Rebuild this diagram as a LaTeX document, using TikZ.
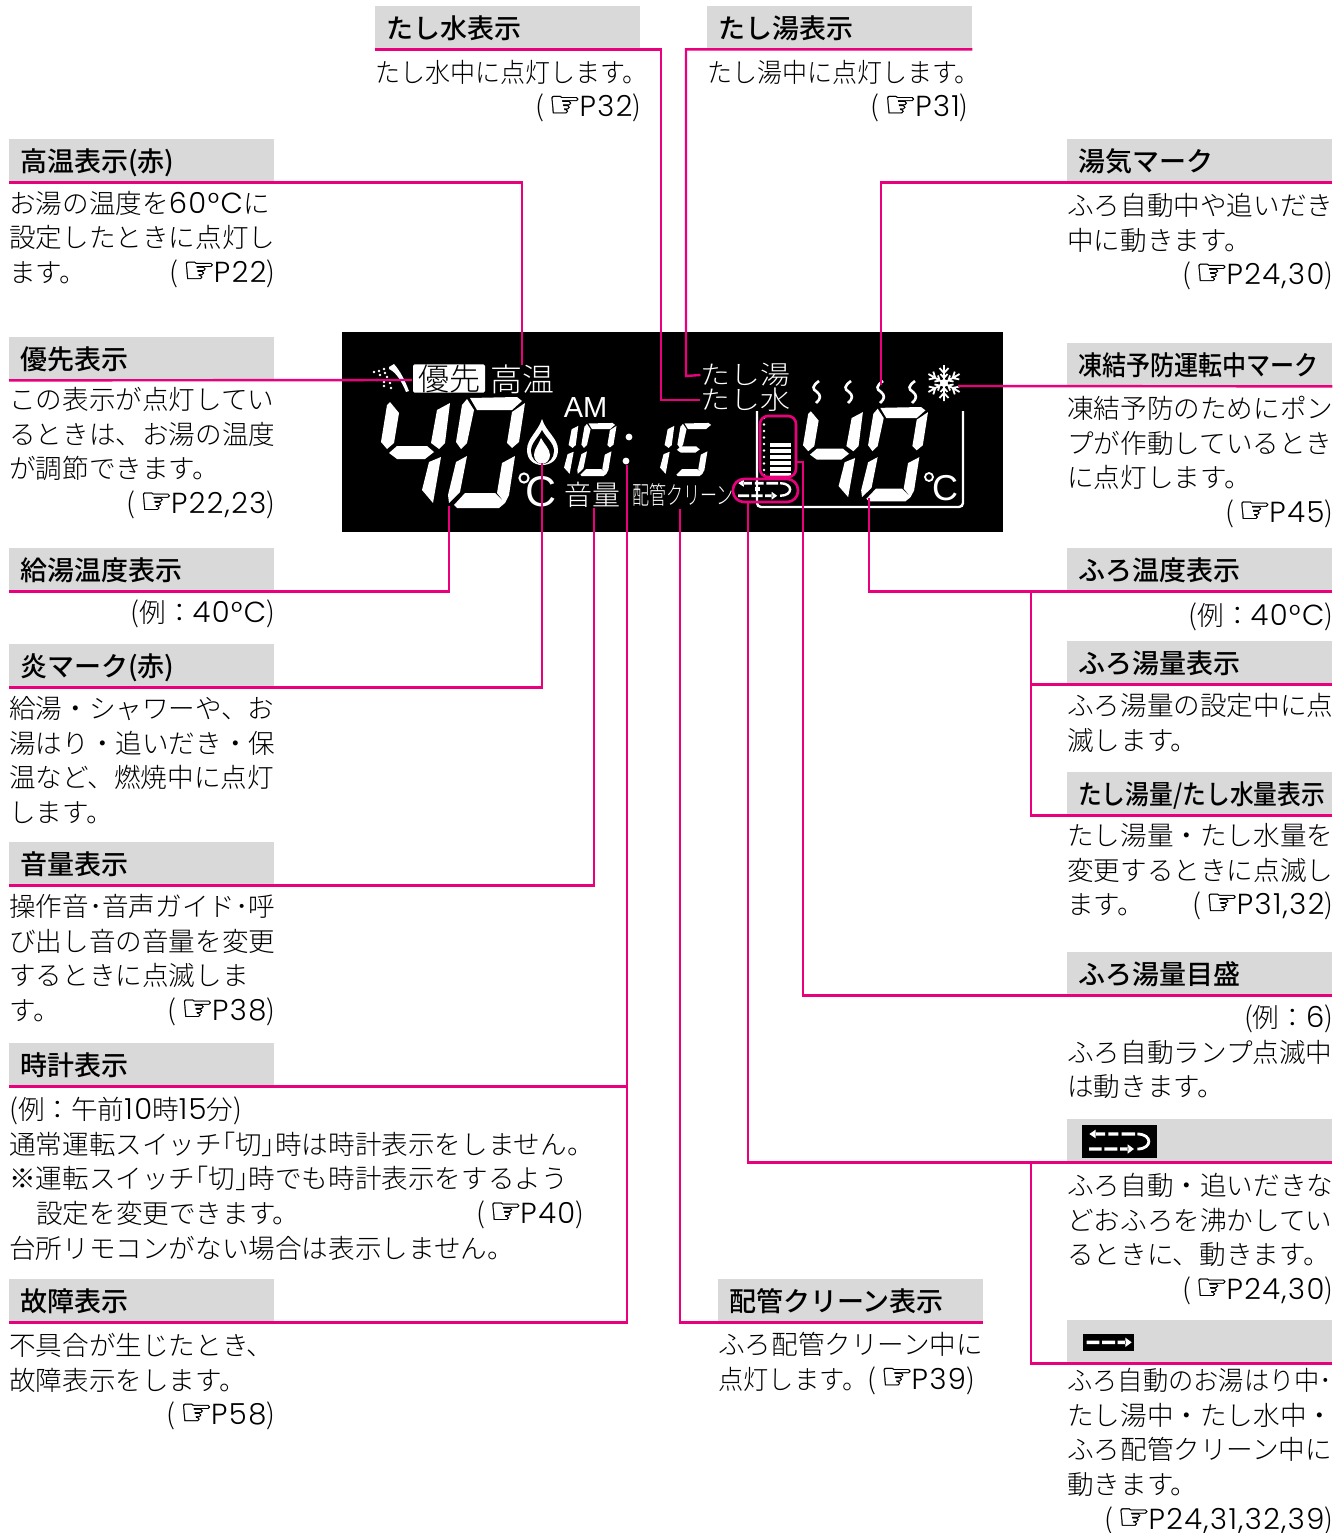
\documentclass[tikz,border=0pt]{standalone}
\usepackage{fontspec}
\usepackage{graphicx}
\setmainfont{Noto Sans CJK JP Light}
\newfontfamily\hdfont{Noto Sans CJK JP Medium}
\newfontfamily\latfont[LetterSpace=5]{Poppins Light}
\newfontfamily\amfont{Liberation Sans}
\newfontfamily\symfont[RawFeature={embolden=0.7}]{DejaVu Sans}
\definecolor{pinkline}{RGB}{232,0,125}
\definecolor{barfill}{RGB}{217,217,217}
\newlength\bw
\newcommand\tl[1]{\hbox to \bw{#1\hfil}}
\newcommand\tr[1]{\hbox to \bw{\hfil #1}}
\newcommand\lt[1]{{\fontsize{29}{30}\latfont #1}}
\newcommand\pl{{\fontsize{28}{30}\selectfont(}}
\newcommand\pr{{\fontsize{28}{30}\selectfont)}}
\newcommand\hand{{\fontsize{37}{30}\symfont ☞}}
\newcommand\refp[1]{\pl\,\hand\kern-2pt\lt{#1}\pr}
\newcommand\degc{\lt{°C}}
\newcommand\segLU{(467,399)--(474,410)--(467,443)--(461,449)--(456,442)--(462,405)--cycle}
\newcommand\segT{(470,398)--(517,397)--(522,401)--(512,410)--(477,410)--cycle}
\newcommand\segRU{(525,403)--(519,442)--(512,448)--(507,443)--(512,412)--cycle}
\newcommand\segRL{(515,456)--(509,495)--(505,503)--(497,493)--(502,463)--cycle}
\newcommand\segB{(454,505)--(465,493)--(495,493)--(505,503)--(499,508)--(457,508)--cycle}
\newcommand\segLL{(467,456)--(460,492)--(449,503)--(448,495)--(456,462)--cycle}
\newcommand\segM{(455,453)--(463,446)--(493,446)--(500,452)--(491,459)--(463,459)--cycle}
\newcommand\fourA{(390,402)--(399,413)--(394,443)--(387,449)--(381,442)--(387,405)--cycle}
\newcommand\fourM{(389,453)--(397,446)--(427,446)--(434,452)--(425,459)--(397,459)--cycle}
\newcommand\oneU{(450,403)--(445,443)--(439,449)--(431,443)--(437,410)--cycle}
\newcommand\oneL{(441,457)--(433,503)--(422,490)--(429,462)--cycle}
\newcommand\drawfour{\fill[white] \fourA \fourM \oneU \oneL;}
\newcommand\drawone{\fill[white] \oneU \oneL;}
\newcommand\drawzero{\fill[white] \segLU \segT \segRU \segRL \segB \segLL;}
\newcommand\drawfive{\fill[white] \segLU \segT \segM \segRL \segB;}
\newcommand\flowlow{\fill[white] (87,112) rectangle (125,122) (133,112) rectangle (172,122) (180,112) rectangle (205,122) (203,103)--(222,117)--(203,131)--cycle;}
\newcommand\flowup{\fill[white] (88,72)--(107,59)--(107,85)--cycle (105,67) rectangle (135,77) (145,67) rectangle (175,77) (185,67) rectangle (225,77);}
\tikzset{
  x=1pt,y=-1pt,
  headbar/.style={fill=barfill,anchor=north west,inner xsep=11pt,inner ysep=0pt,minimum height=#1,text width=243pt,text height=22pt,text depth=1pt,font=\fontsize{27}{30}\hdfont},
  headbar/.default=43pt,
  bodyblock/.style={anchor=north west,yshift=-8pt,inner sep=0pt,text width=#1,font=\fontsize{26.6}{34.8}\selectfont,execute at begin node={\setlength\bw{#1}\rule{0pt}{22pt}\par\vskip-34.8pt}},
  bodyblock/.default=266pt,
  conn/.style={draw=pinkline,line width=2.4pt,line join=miter},
  disp/.style={text=white,inner sep=0pt,anchor=center},
  pinkring/.style={draw=pinkline,line width=2.6pt},
}
\begin{document}
\begin{tikzpicture}
\useasboundingbox (0,0) rectangle (1343,1533);
\fill[white] (0,0) rectangle (1343,1533);
% display
\fill[black] (342,332) rectangle (1003,532);
% shower
\fill[white] (389,367) -- (394,364) .. controls (401,372) and (405,381) .. (409,391) -- (406,392) .. controls (402,382) and (396,372) .. (389,369) -- cycle;
\foreach \p in {(374,372),(379,371),(384,369),(385,373),(380,375),(387,377),(377,380),(384,382),(390,383),(384,386),(391,388)} \fill[white] \p circle (1.3);
% big digits
\drawfour \drawzero
\begin{scope}[shift={(472.3,69.55)},xscale=.868,yscale=.85]
\drawfour \drawzero
\end{scope}
\begin{scope}[shift={(348.8,232.4)},xscale=.51,yscale=.48]
\drawone \drawzero
\end{scope}
\begin{scope}[shift={(444.8,232.4)},xscale=.51,yscale=.48]
\drawone \drawfive
\end{scope}
\fill[white] (629,437) circle (3.4) (626,461) circle (3.4);
% flame
\fill[white] (542,419) .. controls (538,432) and (527,438) .. (527,450) .. controls (527,460) and (534,465) .. (542,465) .. controls (551,465) and (558,460) .. (558,450) .. controls (558,438) and (546,432) .. (542,419) -- cycle;
\fill[black] (542,430) .. controls (538,438) and (531,443) .. (531,451) .. controls (531,458) and (536,463) .. (541,464) -- (544,464) .. controls (549,463) and (554,458) .. (554,451) .. controls (554,443) and (546,438) .. (542,430) -- cycle;
\fill[white] (541,438) .. controls (539,444) and (534,449) .. (534,455) .. controls (534,460) and (538,464) .. (542,464) .. controls (546,464) and (550,460) .. (550,455) .. controls (550,449) and (544,444) .. (541,438) -- cycle;
% degrees
\draw[white,line width=2pt] (524,478) circle (4.6);
\node[disp,font=\fontsize{43}{43}\amfont] (cleft) at (541,492) {C};
\draw[white,line width=1.8pt] (929,477) circle (4);
\node[disp,font=\fontsize{36}{36}\amfont] (cright) at (945,488) {C};
% tub
\draw[white,line width=2.4pt,rounded corners=4pt] (757,411) -- (757,507) -- (963,507) -- (963,411);
% steam
\foreach \q in {817,849,881,913} \draw[white,line width=2.6pt] (\q+2,381) .. controls (\q-5,386) and (\q-5,389) .. (\q,392) .. controls (\q+4,395) and (\q+4,399) .. (\q-1,403);
% snowflake
\begin{scope}[shift={(944,383)}]
\foreach \a in {30,90,150,210,270,330} {
  \draw[white,line width=1.8pt,rotate=\a] (0,0) -- (18,0) (10,0) -- (15,4.5) (10,0) -- (15,-4.5) (5,0) -- (9,3.5) (5,0) -- (9,-3.5);
}
\fill[white] (0,0) circle (4);
\end{scope}
% level gauge
\foreach \q in {418,424.5,431,437.5,444,450.5,457,463.5,470,475} \fill[white] (764,\q) circle (1.3);
\foreach \q in {445,451,457,463,469,475} \fill[white] (770,\q-1.6) rectangle (791,\q+1.6);
% flow icon in display
\begin{scope}[shift={(712.8,463)},xscale=.29,yscale=.28]
\flowlow \flowup
\draw[white,line width=2.4pt] (232,72) .. controls (278,72) and (278,117) .. (232,117);
\end{scope}
\fill[white] (755,487) rectangle (760,491);
% display texts
\node[fill=white,rounded corners=1.5pt,inner sep=0pt,minimum width=72pt,minimum height=27pt] (yusen) at (449,378.5) {\fontsize{31}{31}\selectfont 優先};
\node[disp,font=\fontsize{32}{32}\selectfont] (koon) at (522,379) {高温};
\node[disp,font=\fontsize{29}{29}\amfont] (am) at (585.5,408) {AM};
\node[disp,font=\fontsize{26}{26}\selectfont] (tashiyu) at (745.5,375) {\scalebox{1.15}[1]{たし湯}};
\node[disp,font=\fontsize{26}{26}\selectfont] (tashimizu) at (745.5,400) {\scalebox{1.15}[1]{たし水}};
\node[disp,font=\fontsize{28}{28}\selectfont] (onryo) at (592.5,495) {音量};
\node[disp,font=\fontsize{25}{25}\selectfont] (haikan) at (683,495) {\scalebox{.68}[1]{配管クリーン}};
% rings
\draw[pinkring,rounded corners=8pt] (760,416) rectangle (796,477);
\draw[pinkring,rounded corners=11pt] (733,479) rectangle (798,502);
% coordinates
\coordinate (tKoon) at (522,365);
\coordinate (tYusen) at (412,380);
\coordinate (tTemp) at (449,506);
\coordinate (tFlame) at (542,463);
\coordinate (tOnryo) at (594,508);
\coordinate (tDot) at (627,465);
\coordinate (tHaikan) at (680,509);
\coordinate (tFlow) at (748,502);
\coordinate (tGaugeA) at (796,462);
\coordinate (tGaugeB) at (803,462);
\coordinate (tSteam) at (881,385);
\coordinate (tSnow) at (958,386);
\coordinate (tBath) at (869,498);
\coordinate (cMizu) at (661,400);
\coordinate (cYu) at (686,376);
\coordinate (jA) at (1031,591);
\coordinate (jB) at (1031,1162);
% header bars
\node[headbar,minimum width=265pt] (hMizu) at (375,6) {たし水表示};
\node[headbar,minimum width=265pt] (hYu) at (707,6) {たし湯表示};
\node[headbar,minimum width=265pt] (hKoon) at (9,139) {高温表示(赤)};
\node[headbar,minimum width=265pt] (hYusen) at (9,337) {優先表示};
\node[headbar,minimum width=265pt] (hTemp) at (9,548) {給湯温度表示};
\node[headbar,minimum width=265pt] (hFlame) at (9,644) {炎マーク(赤)};
\node[headbar,minimum width=265pt] (hOnryo) at (9,842) {音量表示};
\node[headbar,minimum width=265pt] (hClock) at (9,1043) {時計表示};
\node[headbar,minimum width=265pt] (hFault) at (9,1279) {故障表示};
\node[headbar,minimum width=265pt] (hHaikan) at (718,1279) {配管クリーン表示};
\node[headbar,minimum width=265pt] (hSteam) at (1067,139) {湯気マーク};
\node[headbar,minimum width=265pt] (hFreeze) at (1067,343) {\scalebox{.89}[1]{凍結予防運転中マーク}};
\node[headbar,minimum width=265pt] (hBath) at (1067,548) {ふろ温度表示};
\node[headbar,minimum width=265pt] (hVol) at (1067,641) {ふろ湯量表示};
\node[headbar,minimum width=265pt] (hAdd) at (1067,772) {\scalebox{.88}[1]{たし湯量/たし水量表示}};
\node[headbar,minimum width=265pt] (hGauge) at (1067,952) {ふろ湯量目盛};
\node[headbar,minimum width=265pt] (hIconA) at (1067,1119) {};
\node[headbar,minimum width=265pt] (hIconB) at (1067,1320) {};
% icons in bars
\fill[black] (1082,1125) rectangle (1157,1158);
\begin{scope}[shift={(1060,1110)},scale=1/3]
\flowlow \flowup
\draw[white,line width=2.8pt] (232,72) .. controls (278,72) and (278,117) .. (232,117);
\end{scope}
\fill[black] (1083,1334) rectangle (1134,1351);
\begin{scope}[shift={(1057.67,1303.33)},scale=1/3]
\flowlow
\end{scope}
% connectors
\draw[conn] (hMizu.south west) -| (cMizu) -- (tashimizu.west);
\draw[conn] (hYu.south east) -| (cYu) -- (tashiyu.west);
\draw[conn] (hKoon.south west) -| (tKoon);
\draw[conn] (hYusen.south west) -- (tYusen);
\draw[conn] (hTemp.south west) -| (tTemp);
\draw[conn] (hFlame.south west) -| (tFlame);
\draw[conn] (hOnryo.south west) -| (tOnryo);
\draw[conn] (hClock.south west) -| (tDot);
\draw[conn] (hFault.south west) -| (tDot);
\draw[conn] (hHaikan.south east) -| (tHaikan);
\draw[conn] (hSteam.south east) -| (tSteam);
\draw[conn] (hFreeze.south east) -- (tSnow);
\draw[conn] (hBath.south east) -| (tBath);
\draw[conn] (hVol.south east) -| (jA);
\draw[conn] (hAdd.south east) -| (jA);
\draw[conn] (hGauge.south east) -| (tGaugeB) -- (tGaugeA);
\draw[conn] (hIconA.south east) -| (tFlow);
\draw[conn] (hIconB.south east) -| (jB);
% body texts
\node[bodyblock] (bMizu) at (375,52) {\tl{\scalebox{.94}[1]{たし水中に点灯します。}}\tr{\refp{P32}}};
\node[bodyblock] (bYu) at (707,52) {\tl{\scalebox{.94}[1]{たし湯中に点灯します。}}\tr{\refp{P31}\,}};
\node[bodyblock] (bKoon) at (9,183) {\tl{お湯の温度を\lt{60}\degc に}\tl{設定したときに点灯し}\tl{ます。\hfill\refp{P22}}};
\node[bodyblock] (bYusen) at (9,379) {\tl{この表示が点灯してい}\tl{るときは、お湯の温度}\tl{が調節できます。}\tr{\refp{P22,23}}};
\node[bodyblock] (bTemp) at (9,592) {\tr{\pl 例：\lt{40}\degc\pr}};
\node[bodyblock] (bFlame) at (9,688) {\tl{給湯・シャワーや、お}\tl{湯はり・追いだき・保}\tl{温など、燃焼中に点灯}\tl{します。}};
\node[bodyblock] (bOnryo) at (9,886) {\tl{操作音･音声ガイド･呼}\tl{び出し音の音量を変更}\tl{するときに点滅しま}\tl{す。\hfill\refp{P38}}};
\node[bodyblock=575pt] (bClock) at (9,1089) {\tl{\pl 例：午前\lt{10}時\lt{15}分\pr}\tl{通常運転スイッチ｢切｣時は時計表示をしません。}\tl{※運転スイッチ｢切｣時でも時計表示をするよう}\tl{\hspace{27pt}設定を変更できます。\hfill\refp{P40}}\tl{台所リモコンがない場合は表示しません。}};
\node[bodyblock] (bFault) at (9,1325) {\tl{不具合が生じたとき、}\tl{故障表示をします。}\tr{\refp{P58}}};
\node[bodyblock] (bHaikan) at (718,1324) {\tl{ふろ配管クリーン中に}\tl{\scalebox{.95}[1]{点灯します。}\refp{P39}}};
\node[bodyblock] (bSteam) at (1067,185) {\tl{ふろ自動中や追いだき}\tl{中に動きます。}\tr{\refp{P24,30}}};
\node[bodyblock] (bFreeze) at (1067,388) {\tl{凍結予防のためにポン}\tl{プが作動しているとき}\tl{に点灯します。}\tr{\refp{P45}}};
\node[bodyblock] (bBath) at (1067,595) {\tr{\pl 例：\lt{40}\degc\pr}};
\node[bodyblock] (bVol) at (1067,685) {\tl{ふろ湯量の設定中に点}\tl{滅します。}};
\node[bodyblock] (bAdd) at (1067,815) {\tl{たし湯量・たし水量を}\tl{変更するときに点滅し}\tl{ます。\hfill\refp{P31,32}}};
\node[bodyblock] (bGauge) at (1067,997) {\tr{\pl 例：\lt{6}\pr}\tl{ふろ自動ランプ点滅中}\tl{は動きます。}};
\node[bodyblock] (bIconA) at (1067,1165) {\tl{ふろ自動・追いだきな}\tl{どおふろを沸かしてい}\tl{るときに、動きます。}\tr{\refp{P24,30}}};
\node[bodyblock] (bIconB) at (1067,1360) {\tl{\scalebox{.95}[1]{ふろ自動のお湯はり中･}}\tl{たし湯中・たし水中・}\tl{ふろ配管クリーン中に}\tl{動きます。}\tr{\refp{P24,31,32,39}}};
\end{tikzpicture}
\end{document}
